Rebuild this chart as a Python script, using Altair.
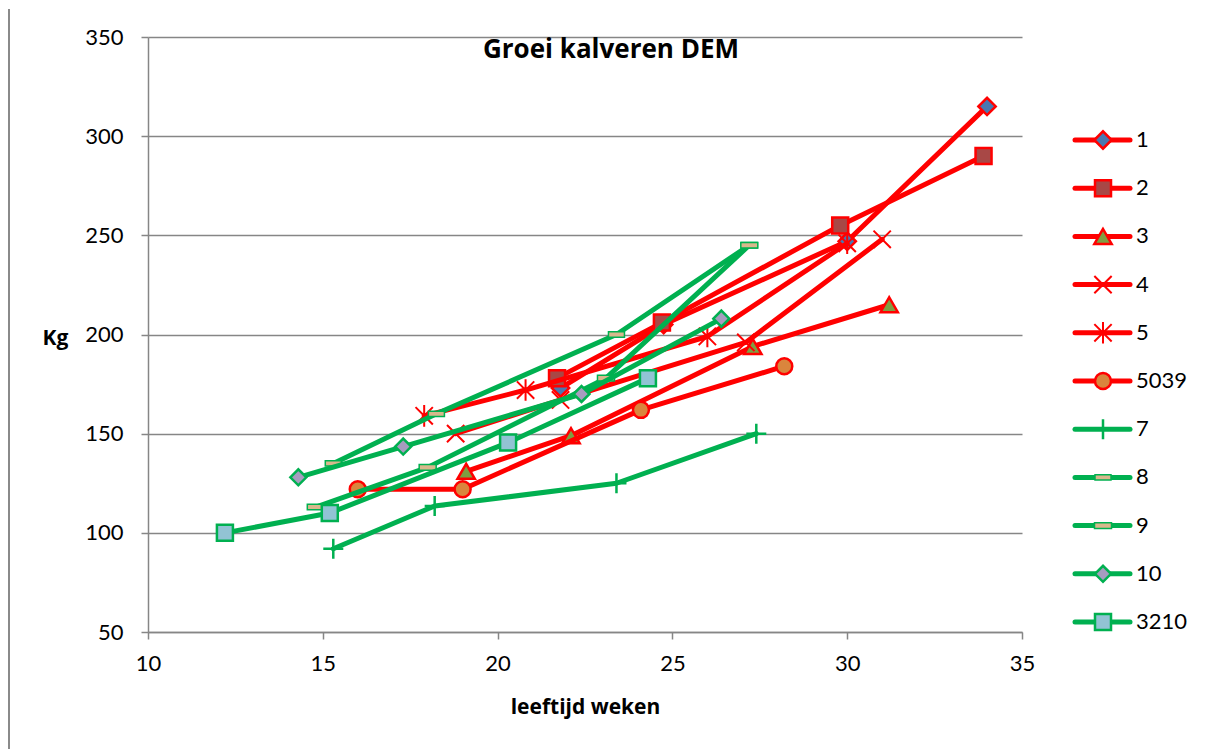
import altair as alt
import pandas as pd

# ---------------- data ----------------
series_names = ["1", "2", "3", "4", "5", "5039", "7", "8", "9", "10", "3210"]

weeks_1 = [21.8, 24.75, 30.0, 34.0]
kg_1 = [173, 205, 247, 315]
weeks_2 = [21.7, 24.7, 29.8, 33.9]
kg_2 = [178, 206, 255, 290]
weeks_3 = [19.1, 22.1, 27.3, 31.2]
kg_3 = [131, 149, 194, 215]
weeks_4 = [18.8, 21.8, 27.1, 31.0]
kg_4 = [150, 167, 196, 248]
weeks_5 = [17.9, 20.8, 26.0, 30.0]
kg_5 = [159, 172, 199, 246]
weeks_5039 = [16.0, 19.0, 24.1, 28.2]
kg_5039 = [122, 122, 162, 184]
weeks_7 = [15.3, 18.2, 23.4, 27.4]
kg_7 = [92, 113.5, 125, 150]
weeks_8 = [15.3, 18.25, 23.4, 27.2]
kg_8 = [135, 160, 200, 245]
weeks_9 = [14.8, 18.0, 23.1, 27.2]
kg_9 = [113, 133, 178, 245]
weeks_10 = [14.3, 17.3, 22.4, 26.4]
kg_10 = [128, 143.5, 170, 208]
weeks_3210 = [12.2, 15.2, 20.3, 24.3]
kg_3210 = [100, 110, 145.5, 178]

x_ticks = [10, 15, 20, 25, 30, 35]
y_ticks = [50, 100, 150, 200, 250, 300, 350]

series_data = {
    "1": (weeks_1, kg_1), "2": (weeks_2, kg_2), "3": (weeks_3, kg_3),
    "4": (weeks_4, kg_4), "5": (weeks_5, kg_5), "5039": (weeks_5039, kg_5039),
    "7": (weeks_7, kg_7), "8": (weeks_8, kg_8), "9": (weeks_9, kg_9),
    "10": (weeks_10, kg_10), "3210": (weeks_3210, kg_3210),
}

rows = []
for name in series_names:
    w, k = series_data[name]
    for i, (a, b) in enumerate(zip(w, k)):
        rows.append({"series": name, "week": a, "kg": b, "idx": i})
df = pd.DataFrame(rows)
legend_df = pd.DataFrame({"series": series_names})

# ---------------- styles ----------------
RED = "#FF0000"
GREEN = "#00B050"
X_PATH = "M-1,-1L1,1M1,-1L-1,1"
AST_PATH = "M-1,-1L1,1M1,-1L-1,1M0,-1.25L0,1.25"
PLUS_PATH = "M-1,0L1,0M0,-1L0,1"
DASH_PATH = "M-1,-0.33L1,-0.33L1,0.33L-1,0.33Z"

styles = {
    "1": dict(line=RED, shape="diamond", fill="#4A78B0", stroke=RED, size=300, sw=2.5),
    "2": dict(line=RED, shape="square", fill="#A84846", stroke=RED, size=256, sw=2.5),
    "3": dict(line=RED, shape="triangle-up", fill="#7F9E42", stroke=RED, size=300, sw=2.5),
    "4": dict(line=RED, shape=X_PATH, fill=None, stroke=RED, size=300, sw=2),
    "5": dict(line=RED, shape=AST_PATH, fill=None, stroke=RED, size=300, sw=2),
    "5039": dict(line=RED, shape="circle", fill="#DA853D", stroke=RED, size=256, sw=2.5),
    "7": dict(line=GREEN, shape=PLUS_PATH, fill=None, stroke=GREEN, size=400, sw=2.5),
    "8": dict(line=GREEN, shape=DASH_PATH, fill="#D8B88C", stroke=GREEN, size=256, sw=1.5),
    "9": dict(line=GREEN, shape=DASH_PATH, fill="#D8B88C", stroke=GREEN, size=289, sw=1.5),
    "10": dict(line=GREEN, shape="diamond", fill="#A79CBF", stroke=GREEN, size=256, sw=2.5),
    "3210": dict(line=GREEN, shape="square", fill="#92C3D4", stroke=GREEN, size=256, sw=2.5),
}

FONT = "Lato"
BOLD_FONT = "Open Sans"
GRID = "#868686"

x_enc = alt.X(
    "week:Q",
    scale=alt.Scale(domain=[10, 35], nice=False, zero=False),
    axis=alt.Axis(
        values=x_ticks, grid=False, title="leeftijd weken",
        titleFont=BOLD_FONT, titleFontSize=21, titleFontWeight="bold", titleColor="#000",
        titleY=75, titleBaseline="middle",
        labelFont=FONT, labelFontSize=22, labelColor="#000", labelPadding=14,
        labelFlush=False, labelOverlap=False,
        tickSize=7, tickColor=GRID, tickWidth=1.5, domainColor=GRID, domainWidth=1.5,
    ),
)
y_enc = alt.Y(
    "kg:Q",
    scale=alt.Scale(domain=[50, 350], nice=False, zero=False),
    axis=alt.Axis(
        values=y_ticks, grid=True, gridColor=GRID, gridWidth=1.5, title="Kg",
        titleFont=BOLD_FONT, titleFontSize=21, titleFontWeight="bold", titleColor="#000",
        titleAngle=0, titleX=-93, titleY=301, titleAlign="center", titleBaseline="middle",
        labelFont=FONT, labelFontSize=22, labelColor="#000", labelPadding=18,
        labelFlush=False, labelOverlap=False,
        tickSize=7, tickColor=GRID, tickWidth=1.5, domainColor=GRID, domainWidth=1.5,
    ),
)

base = alt.Chart(df)
layers = []

# chart-area frame (left edge) and chart title
frame = alt.Chart(legend_df.head(1)).mark_rule(color="#8A8A8A", strokeWidth=2).encode(
    x=alt.value(-139), y=alt.value(-28), y2=alt.value(712)
)
title = alt.Chart(pd.DataFrame({"t": ["Groei kalveren DEM"]})).mark_text(
    font=BOLD_FONT, fontSize=26, fontWeight="bold", color="#000", align="center", baseline="middle"
).encode(text="t:N", x=alt.value(463), y=alt.value(13))
layers += [frame, title]

for name in series_names:
    st = styles[name]
    sub = base.transform_filter(alt.FieldEqualPredicate(field="series", equal=name))
    line = sub.mark_line(color=st["line"], strokeWidth=5, strokeJoin="round", strokeCap="round").encode(
        x=x_enc, y=y_enc, order="idx:Q"
    )
    pkw = dict(shape=st["shape"], stroke=st["stroke"], size=st["size"], strokeWidth=st["sw"], opacity=1)
    if st["fill"]:
        pkw["fill"] = st["fill"]
        pkw["fillOpacity"] = 1
    pts = sub.mark_point(**pkw).encode(x=x_enc, y=y_enc)
    layers += [line, pts]

main = alt.layer(*layers).properties(width=874, height=595)

# ---------------- legend (drawn as a small chart) ----------------
ly = alt.Y("series:N", scale=alt.Scale(type="point", domain=series_names, range=[103, 585], padding=0), axis=None)
leg_layers = []
lbase = alt.Chart(legend_df)
for name in series_names:
    st = styles[name]
    sub = lbase.transform_filter(alt.FieldEqualPredicate(field="series", equal=name))
    leg_layers.append(sub.mark_rule(color=st["line"], strokeWidth=5, strokeCap="round").encode(
        x=alt.value(33), x2=alt.value(88), y=ly))
    pkw = dict(shape=st["shape"], stroke=st["stroke"], size=st["size"], strokeWidth=st["sw"], opacity=1)
    if st["fill"]:
        pkw["fill"] = st["fill"]
        pkw["fillOpacity"] = 1
    leg_layers.append(sub.mark_point(**pkw).encode(x=alt.value(61), y=ly))
    leg_layers.append(sub.mark_text(font=FONT, fontSize=22, color="#000", align="left", baseline="middle").encode(
        x=alt.value(94), y=ly, text="series:N"))

legend = alt.layer(*leg_layers).properties(width=150, height=595)

chart = (
    alt.hconcat(main, legend, spacing=20, bounds="flush")
    .properties(padding={"left": 0, "top": 0, "right": 0, "bottom": 0})
    .configure(font=FONT, background="white")
    .configure_view(strokeWidth=0, stroke=None)
)

chart.save("out.html", embed_options={"renderer": "svg", "actions": False})
